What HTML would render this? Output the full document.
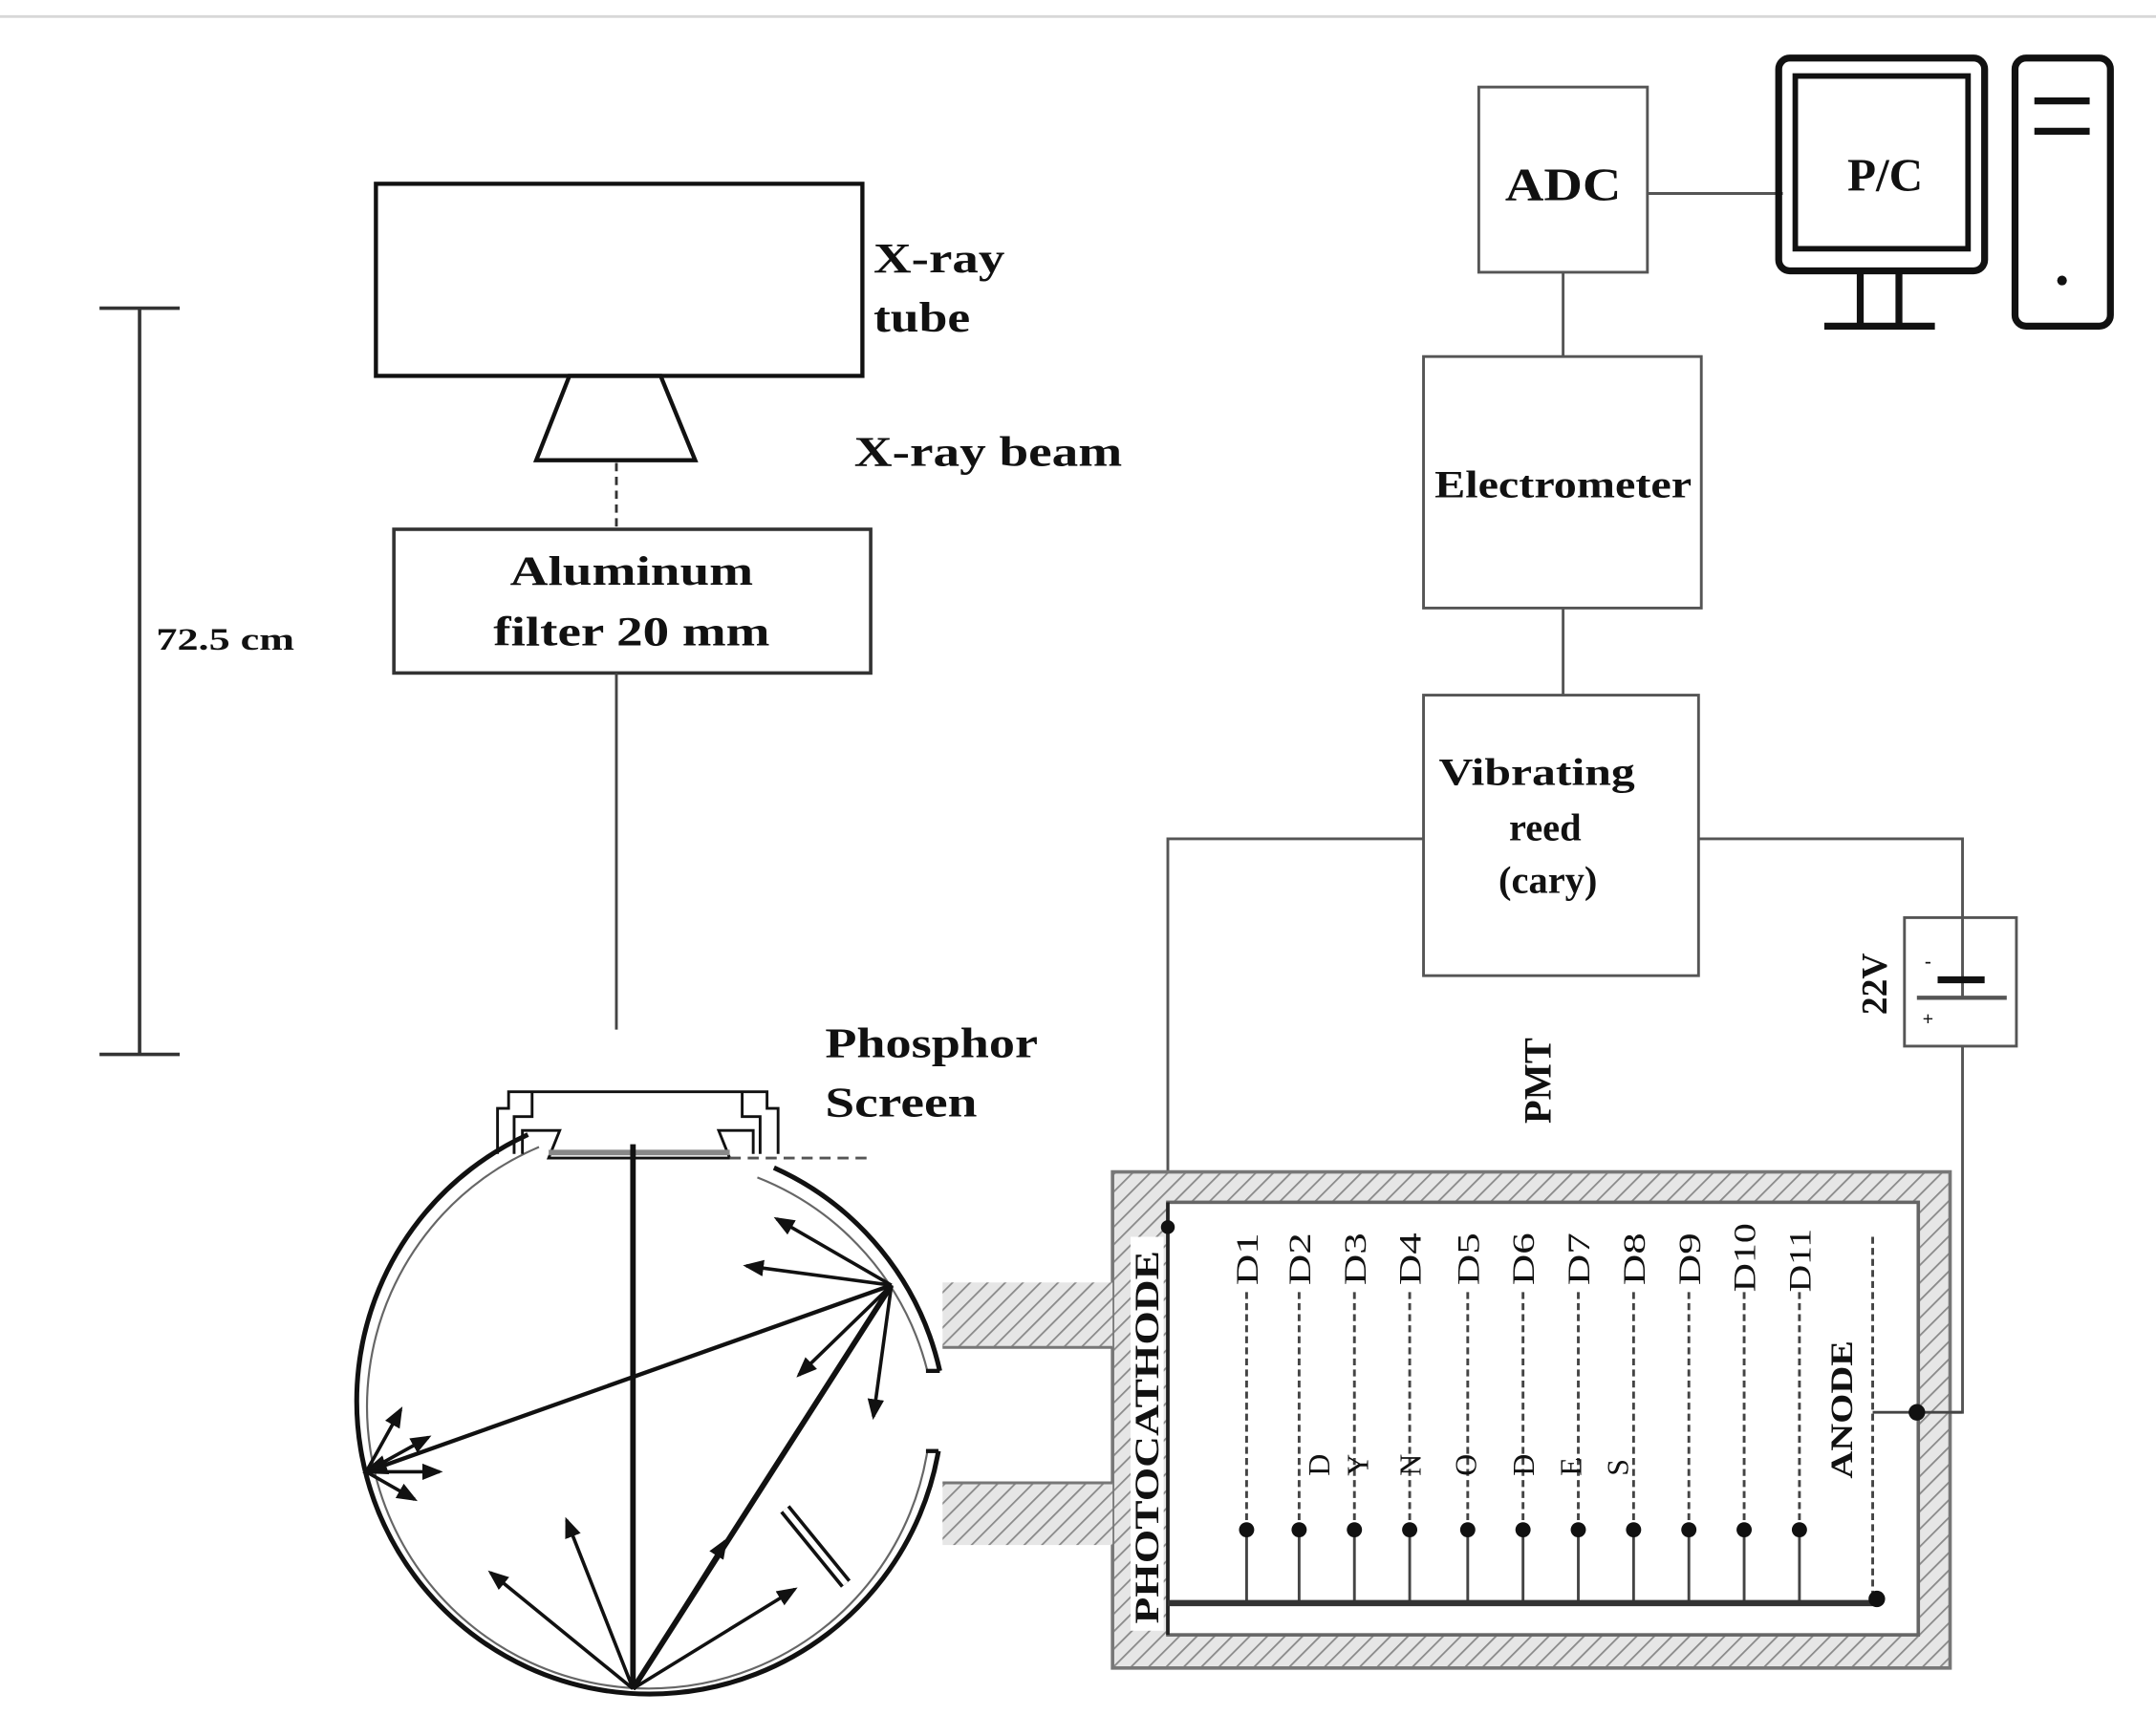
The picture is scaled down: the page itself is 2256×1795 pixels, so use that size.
<!DOCTYPE html>
<html><head><meta charset="utf-8"><style>
html,body{margin:0;padding:0;background:#fff;width:2256px;height:1795px;overflow:hidden}
svg{display:block}
text{font-family:"Liberation Serif",serif;font-weight:bold;fill:#111}
</style></head><body>
<svg width="2256" height="1795" viewBox="0 0 1560 1241" preserveAspectRatio="none" xmlns="http://www.w3.org/2000/svg">
<defs>
<pattern id="h" width="9" height="9" patternUnits="userSpaceOnUse" patternTransform="rotate(45)">
<rect width="9" height="9" fill="#e6e6e6"/><line x1="0" y1="0" x2="0" y2="9" stroke="#8a8a8a" stroke-width="2.5"/>
</pattern>
<marker id="a" markerWidth="6" markerHeight="6" refX="5" refY="3" orient="auto" markerUnits="strokeWidth"><path d="M0,0.6 L6,3 L0,5.4 z" fill="#111"/></marker>
</defs>
<line x1="0" y1="12" x2="1560" y2="12" stroke="#d8d8d8" stroke-width="2"/>

<g stroke="#333" stroke-width="2.5">
<line x1="101" y1="223" x2="101" y2="763"/>
<line x1="72" y1="223" x2="130" y2="223"/>
<line x1="72" y1="763" x2="130" y2="763"/>
</g>
<text x="113" y="470" font-size="23" textLength="100" lengthAdjust="spacingAndGlyphs">72.5 cm</text>

<rect x="272" y="133" width="352" height="139" fill="none" stroke="#111" stroke-width="3"/>
<text x="632" y="197" font-size="31" textLength="95" lengthAdjust="spacingAndGlyphs">X-ray</text>
<text x="632" y="240" font-size="31" textLength="70" lengthAdjust="spacingAndGlyphs">tube</text>
<polygon points="412,272 478,272 503,333 388,333" fill="none" stroke="#111" stroke-width="3"/>
<line x1="446" y1="335" x2="446" y2="383" stroke="#333" stroke-width="2" stroke-dasharray="6,4"/>
<text x="618" y="337" font-size="31" textLength="194" lengthAdjust="spacingAndGlyphs">X-ray beam</text>
<rect x="285" y="383" width="345" height="104" fill="none" stroke="#333" stroke-width="2.5"/>
<text x="457" y="423" font-size="30" text-anchor="middle" textLength="176" lengthAdjust="spacingAndGlyphs">Aluminum</text>
<text x="457" y="467" font-size="30" text-anchor="middle" textLength="200" lengthAdjust="spacingAndGlyphs">filter 20 mm</text>
<line x1="446" y1="487" x2="446" y2="745" stroke="#444" stroke-width="2"/>

<g fill="none" stroke="#555" stroke-width="2">
<rect x="1070" y="63" width="122" height="134"/>
<line x1="1192" y1="140" x2="1290" y2="140"/>
<line x1="1131" y1="197" x2="1131" y2="258"/>
<rect x="1030" y="258" width="201" height="182"/>
<line x1="1131" y1="440" x2="1131" y2="503"/>
<rect x="1030" y="503" width="199" height="203"/>
<polyline points="1030,607 845,607 845,888"/>
<polyline points="1229,607 1420,607 1420,664"/>
<rect x="1378" y="664" width="81" height="93"/>
<polyline points="1420,757 1420,1022 1387,1022"/>
<line x1="1420" y1="664" x2="1420" y2="722"/>
<line x1="1387" y1="722" x2="1452" y2="722" stroke-width="3"/>
</g>
<line x1="1402" y1="709" x2="1436" y2="709" stroke="#111" stroke-width="5"/>
<text x="1395" y="742" font-size="14" text-anchor="middle">+</text>
<text x="1395" y="700" font-size="14" text-anchor="middle">-</text>
<text x="1131" y="145" font-size="34" text-anchor="middle" textLength="84" lengthAdjust="spacingAndGlyphs">ADC</text>
<rect x="1287" y="42" width="149" height="154" rx="8" fill="none" stroke="#111" stroke-width="5"/>
<rect x="1299" y="55" width="125" height="125" fill="none" stroke="#111" stroke-width="4"/>
<line x1="1346" y1="196" x2="1346" y2="234" stroke="#111" stroke-width="5"/>
<line x1="1374" y1="196" x2="1374" y2="234" stroke="#111" stroke-width="5"/>
<line x1="1320" y1="236" x2="1400" y2="236" stroke="#111" stroke-width="5"/>
<rect x="1458" y="42" width="69" height="194" rx="8" fill="none" stroke="#111" stroke-width="5"/>
<line x1="1472" y1="73" x2="1512" y2="73" stroke="#111" stroke-width="5"/>
<line x1="1472" y1="95" x2="1512" y2="95" stroke="#111" stroke-width="5"/>
<circle cx="1492" cy="203" r="3.5" fill="#111"/>
<text x="1364" y="138" font-size="34" text-anchor="middle">P/C</text>
<text x="1131" y="360" font-size="28" text-anchor="middle" textLength="186" lengthAdjust="spacingAndGlyphs">Electrometer</text>
<text x="1112" y="568" font-size="28" text-anchor="middle" textLength="142" lengthAdjust="spacingAndGlyphs">Vibrating</text>
<text x="1118" y="608" font-size="28" text-anchor="middle">reed</text>
<text x="1120" y="646" font-size="28" text-anchor="middle">(cary)</text>
<text transform="translate(1365,712) rotate(-90)" font-size="26" text-anchor="middle">22V</text>
<text transform="translate(1122,782) rotate(-90)" font-size="28" text-anchor="middle">PMT</text>

<rect x="805" y="848" width="606" height="359" fill="url(#h)" stroke="#777" stroke-width="2.5"/>
<rect x="845" y="870" width="543" height="313" fill="#fff" stroke="#666" stroke-width="2.5"/>
<rect x="818" y="895" width="24" height="285" fill="#fff"/>
<text transform="translate(838,1040) rotate(-90)" font-size="25" text-anchor="middle" textLength="270" lengthAdjust="spacingAndGlyphs">PHOTOCATHODE</text>
<line x1="845" y1="870" x2="845" y2="1183" stroke="#222" stroke-width="2.5"/>
<circle cx="845" cy="888" r="5" fill="#111"/>
<g font-size="23">
<text transform="translate(910,930) rotate(-90)" style="font-weight:normal" textLength="38" lengthAdjust="spacingAndGlyphs">D1</text>
<text transform="translate(948,930) rotate(-90)" style="font-weight:normal" textLength="38" lengthAdjust="spacingAndGlyphs">D2</text>
<text transform="translate(988,930) rotate(-90)" style="font-weight:normal" textLength="38" lengthAdjust="spacingAndGlyphs">D3</text>
<text transform="translate(1028,930) rotate(-90)" style="font-weight:normal" textLength="38" lengthAdjust="spacingAndGlyphs">D4</text>
<text transform="translate(1070,930) rotate(-90)" style="font-weight:normal" textLength="38" lengthAdjust="spacingAndGlyphs">D5</text>
<text transform="translate(1110,930) rotate(-90)" style="font-weight:normal" textLength="38" lengthAdjust="spacingAndGlyphs">D6</text>
<text transform="translate(1150,930) rotate(-90)" style="font-weight:normal" textLength="38" lengthAdjust="spacingAndGlyphs">D7</text>
<text transform="translate(1190,930) rotate(-90)" style="font-weight:normal" textLength="38" lengthAdjust="spacingAndGlyphs">D8</text>
<text transform="translate(1230,930) rotate(-90)" style="font-weight:normal" textLength="38" lengthAdjust="spacingAndGlyphs">D9</text>
<text transform="translate(1270,935) rotate(-90)" style="font-weight:normal" textLength="50" lengthAdjust="spacingAndGlyphs">D10</text>
<text transform="translate(1310,935) rotate(-90)" style="font-weight:normal" textLength="46" lengthAdjust="spacingAndGlyphs">D11</text>
</g>
<g stroke="#444" stroke-width="2">
<g stroke-dasharray="5,3">
<line x1="902" y1="935" x2="902" y2="1105"/><line x1="940" y1="935" x2="940" y2="1105"/>
<line x1="980" y1="935" x2="980" y2="1105"/><line x1="1020" y1="935" x2="1020" y2="1105"/>
<line x1="1062" y1="935" x2="1062" y2="1105"/><line x1="1102" y1="935" x2="1102" y2="1105"/>
<line x1="1142" y1="935" x2="1142" y2="1105"/><line x1="1182" y1="935" x2="1182" y2="1105"/>
<line x1="1222" y1="935" x2="1222" y2="1105"/><line x1="1262" y1="935" x2="1262" y2="1105"/>
<line x1="1302" y1="935" x2="1302" y2="1105"/>
<line x1="1355" y1="895" x2="1355" y2="1155"/>
</g>
<line x1="902" y1="1107" x2="902" y2="1160"/><line x1="940" y1="1107" x2="940" y2="1160"/>
<line x1="980" y1="1107" x2="980" y2="1160"/><line x1="1020" y1="1107" x2="1020" y2="1160"/>
<line x1="1062" y1="1107" x2="1062" y2="1160"/><line x1="1102" y1="1107" x2="1102" y2="1160"/>
<line x1="1142" y1="1107" x2="1142" y2="1160"/><line x1="1182" y1="1107" x2="1182" y2="1160"/>
<line x1="1222" y1="1107" x2="1222" y2="1160"/><line x1="1262" y1="1107" x2="1262" y2="1160"/>
<line x1="1302" y1="1107" x2="1302" y2="1160"/>
<line x1="1355" y1="1022" x2="1420" y2="1022"/>
</g>
<line x1="845" y1="1160" x2="1358" y2="1160" stroke="#333" stroke-width="4.5"/>
<g fill="#111">
<circle cx="902" cy="1107" r="5.5"/><circle cx="940" cy="1107" r="5.5"/><circle cx="980" cy="1107" r="5.5"/>
<circle cx="1020" cy="1107" r="5.5"/><circle cx="1062" cy="1107" r="5.5"/><circle cx="1102" cy="1107" r="5.5"/>
<circle cx="1142" cy="1107" r="5.5"/><circle cx="1182" cy="1107" r="5.5"/><circle cx="1222" cy="1107" r="5.5"/>
<circle cx="1262" cy="1107" r="5.5"/><circle cx="1302" cy="1107" r="5.5"/>
<circle cx="1358" cy="1157" r="6"/><circle cx="1387" cy="1022" r="6"/>
</g>
<g font-size="22">
<text transform="translate(962,1068) rotate(-90)" style="font-weight:normal">D</text>
<text transform="translate(990,1068) rotate(-90)" style="font-weight:normal">Y</text>
<text transform="translate(1028,1068) rotate(-90)" style="font-weight:normal">N</text>
<text transform="translate(1068,1068) rotate(-90)" style="font-weight:normal">O</text>
<text transform="translate(1110,1068) rotate(-90)" style="font-weight:normal">D</text>
<text transform="translate(1144,1068) rotate(-90)" style="font-weight:normal">E</text>
<text transform="translate(1178,1068) rotate(-90)" style="font-weight:normal">S</text>
</g>
<text transform="translate(1340,1020) rotate(-90)" font-size="23" text-anchor="middle" textLength="100" lengthAdjust="spacingAndGlyphs">ANODE</text>

<rect x="682" y="928" width="123" height="47" fill="url(#h)"/>
<line x1="682" y1="975" x2="805" y2="975" stroke="#777" stroke-width="2"/>
<rect x="682" y="1073" width="123" height="45" fill="url(#h)"/>
<line x1="682" y1="1073" x2="805" y2="1073" stroke="#777" stroke-width="2"/>

<g fill="none" stroke="#111">
<path d="M 382,821 A 212 212 0 1 0 679,1050" stroke-width="3.5"/>
<path d="M 390,830 A 204 204 0 1 0 671,1050" stroke-width="1.5" stroke="#666"/>
<path d="M 560,845 A 212 212 0 0 1 680,992" stroke-width="3.5"/>
<path d="M 548,852 A 204 204 0 0 1 671,992" stroke-width="1.5" stroke="#666"/>
<line x1="670" y1="992" x2="680" y2="992" stroke-width="3"/>
<line x1="670" y1="1050" x2="679" y2="1050" stroke-width="3"/>
<polyline points="360,835 360,802 368,802 368,790 555,790 555,802 563,802 563,835" stroke-width="2"/>
<polyline points="372,835 372,808 385,808 385,790" stroke-width="2"/>
<polyline points="550,835 550,808 537,808 537,790" stroke-width="2"/>
<polyline points="378,835 378,818 405,818 397,838 528,838 520,818 545,818 545,835" stroke-width="2"/>
<line x1="528" y1="838" x2="630" y2="838" stroke="#555" stroke-width="2" stroke-dasharray="8,5"/>
<line x1="397" y1="834" x2="528" y2="834" stroke="#888" stroke-width="4"/>
<line x1="458" y1="828" x2="458" y2="1222" stroke-width="4"/>
<line x1="458" y1="1222" x2="645" y2="930" stroke-width="4"/>
<line x1="645" y1="930" x2="265" y2="1065" stroke-width="3" marker-end="url(#a)"/>
<g stroke-width="2.5" marker-end="url(#a)">
<line x1="645" y1="930" x2="562" y2="882"/>
<line x1="645" y1="930" x2="540" y2="916"/>
<line x1="645" y1="930" x2="578" y2="995"/>
<line x1="645" y1="930" x2="632" y2="1025"/>
<line x1="458" y1="1222" x2="410" y2="1100"/>
<line x1="458" y1="1222" x2="355" y2="1138"/>
<line x1="458" y1="1222" x2="575" y2="1150"/>
<line x1="458" y1="1222" x2="525" y2="1115"/>
<line x1="265" y1="1065" x2="290" y2="1020"/>
<line x1="265" y1="1065" x2="310" y2="1040"/>
<line x1="265" y1="1065" x2="318" y2="1065"/>
<line x1="265" y1="1065" x2="300" y2="1085"/>
</g>
<line x1="568" y1="1092" x2="612" y2="1146" stroke-width="9"/>
<line x1="568" y1="1092" x2="612" y2="1146" stroke-width="4" stroke="#fff"/>
</g>
<text x="597" y="765" font-size="31" textLength="154" lengthAdjust="spacingAndGlyphs">Phosphor</text>
<text x="597" y="808" font-size="31" textLength="110" lengthAdjust="spacingAndGlyphs">Screen</text>
</svg>
</body></html>
